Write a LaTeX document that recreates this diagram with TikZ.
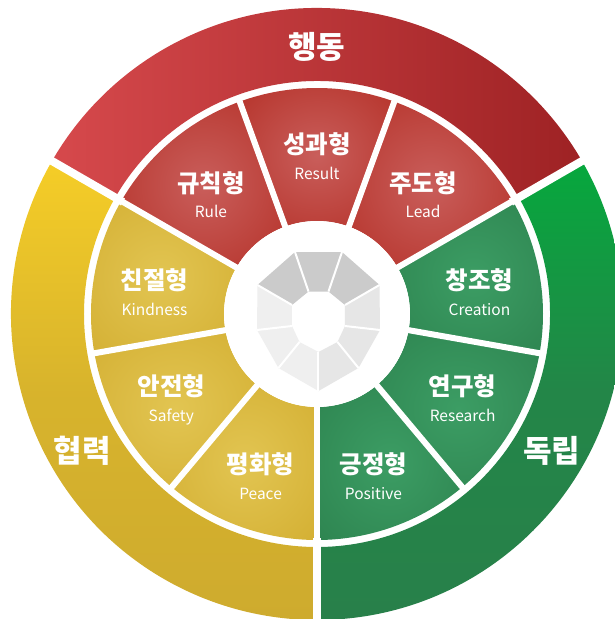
\documentclass[tikz,border=0pt]{standalone}
\usepackage{fontspec}
\setmainfont{Noto Sans CJK KR}
\usepackage{tikz}
\usetikzlibrary{calc}
\definecolor{redL}{HTML}{D6494C}
\definecolor{redD}{HTML}{9E2224}
\definecolor{ylwL}{HTML}{F5CD27}
\definecolor{ylwD}{HTML}{CEAB2E}
\definecolor{grnL}{HTML}{06A83D}
\definecolor{grnD}{HTML}{28804A}
\definecolor{redC}{HTML}{C95E5B}
\definecolor{redE}{HTML}{B0261C}
\definecolor{ylwC}{HTML}{E2C552}
\definecolor{ylwE}{HTML}{D0AA2B}
\definecolor{grnC}{HTML}{3C9D64}
\definecolor{grnE}{HTML}{2A7E4B}
\definecolor{gryD}{HTML}{CBCBCB}
\definecolor{gryL}{HTML}{EFEFEF}
\definecolor{gryR}{HTML}{E6E6E6}
\colorlet{segin}{white}
\colorlet{segout}{black}
\pgfdeclareradialshading[segin,segout]{segglow}{\pgfpoint{0bp}{0bp}}{color(0bp)=(segin); color(45bp)=(segout); color(50bp)=(segout)}

\begin{document}
\begin{tikzpicture}[x=1pt, y=1pt,
  kor/.style={text=white, text height=18pt, text depth=0pt, inner sep=0pt, font=\bfseries\fontsize{24.5}{24.5}\selectfont},
  eng/.style={text=white, text height=11.4pt, text depth=0pt, inner sep=0pt, font=\fontsize{15.5}{15.5}\selectfont},
  big/.style={text=white, text height=22.5pt, text depth=0pt, inner sep=0pt, font=\bfseries\fontsize{31}{31}\selectfont},
  gap/.style={white, line width=#1}]
\useasboundingbox (-317,-305) rectangle (297,314);
\coordinate (c) at (0,0);

\shade[left color=redL, right color=redD] (30:306) arc (30:150:306) -- (150:233) arc (150:30:233) -- cycle;
\shade[top color=ylwL, bottom color=ylwD, middle color=ylwD!75!ylwL] (150:306) arc (150:270:306) -- (270:233) arc (270:150:233) -- cycle;
\shade[top color=grnL, bottom color=grnD, middle color=grnD!85!grnL] (270:306) arc (270:390:306) -- (390:233) arc (390:270:233) -- cycle;

\foreach \a/\b/\ci/\co in {30/70/redC/redE, 70/110/redC/redE, 110/150/redC/redE,
  150/190/ylwC/ylwE, 190/230/ylwC/ylwE, 230/270/ylwC/ylwE,
  270/310/grnC/grnE, 310/350/grnC/grnE, 350/390/grnC/grnE} {
  \colorlet{segin}{\ci}
  \colorlet{segout}{\co}
  \shade[shading=segglow] (\a:93) -- (\a:226) arc (\a:\b:226) -- (\b:93) arc (\b:\a:93) -- cycle;
};
\foreach \a in {30,70,...,350} {
  \draw[gap=6] (\a:88) -- (\a:229);
};
\foreach \a in {30,150,270} {
  \draw[gap=8] (\a:224) -- (\a:312);
};
\fill[white] (c) circle (93);

\begin{scope}[shift={(1.5,0)}]
\foreach \x/\y [count=\k] in {-23.5/62, 23.5/62, 61/29, 61.5/-16, 40/-54, 0/-77, -40/-54, -61.5/-16, -61/29} {
  \coordinate (o\k) at (\x,\y);
};
\foreach \x/\y [count=\k] in {-10/22.5, 10/22.5, 26.5/9, 26.5/-12, 19/-28, 0/-38, -19/-28, -26.5/-12, -26.5/9} {
  \coordinate (i\k) at (\x,\y);
};
\end{scope}
\foreach \k/\n/\col in {1/2/gryD, 2/3/gryD, 3/4/gryR, 4/5/gryR, 5/6/gryR, 6/7/gryL, 7/8/gryL, 8/9/gryL, 9/1/gryD} {
  \fill[\col] (o\k) -- (o\n) -- (i\n) -- (i\k) -- cycle;
};
\foreach \k in {1,...,9} {
  \draw[gap=2] (i\k) -- (o\k);
};

\foreach \a/\ko/\en [count=\k] in {90/성과형/Result, 130/규칙형/Rule, 50/주도형/Lead,
  170/친절형/Kindness, 10/창조형/Creation, 208/안전형/Safety, 332/연구형/Research,
  250/평화형/Peace, 290/긍정형/Positive} {
  \node[kor] (k\k) at ($(0,4.5)+(\a:165)$) {\ko};
  \node[eng] (e\k) at ($(0,-24.5)+(\a:165)$) {\en};
};

\node[big] (act) at (90:267) {행동};
\node[big] (coop) at ($(0,-2)+(210:271)$) {협력};
\node[big] (indep) at ($(0,-2)+(330:271)$) {독립};
\end{tikzpicture}
\end{document}
